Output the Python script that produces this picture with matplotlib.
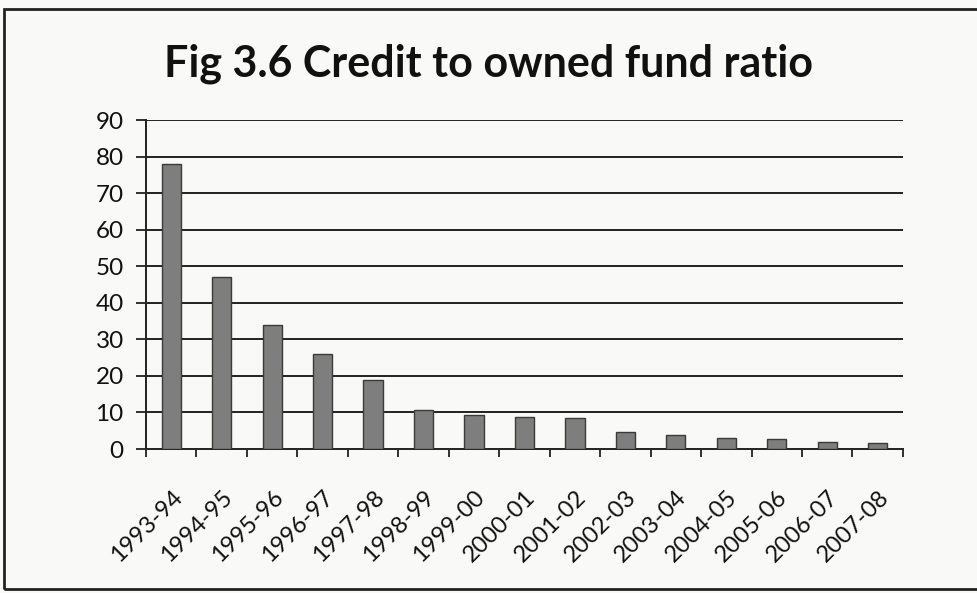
import matplotlib
matplotlib.use("Agg")
import matplotlib.pyplot as plt
from matplotlib.patches import Rectangle
import numpy as np

# Credit to owned fund ratio by year
years = ["1993-94", "1994-95", "1995-96", "1996-97", "1997-98", "1998-99",
         "1999-00", "2000-01", "2001-02", "2002-03", "2003-04", "2004-05",
         "2005-06", "2006-07", "2007-08"]
ratio = [78, 47, 34, 26, 19, 10.8, 9.4, 8.8, 8.5, 4.6, 3.8, 3.0, 2.7, 1.9, 1.6]
yticks = [0, 10, 20, 30, 40, 50, 60, 70, 80, 90]

plt.rcParams['font.family'] = ['Lato', 'DejaVu Sans']

paper = '#f9f9f7'
fig = plt.figure(figsize=(9.77, 5.93), dpi=100, facecolor=paper)
ax = fig.add_axes([0.1494, 0.2428, 0.7748, 0.5548])
ax.set_facecolor(paper)

x = np.arange(len(years))
ax.bar(x, ratio, width=0.38, color='#7e7e7e', edgecolor='#3a3a3a',
       linewidth=1.0, zorder=3)

ax.set_xlim(-0.5, len(years) - 0.5)
ax.set_ylim(0, 90)
ax.set_yticks(yticks)
ax.set_yticklabels([str(v) for v in yticks], fontsize=17.5, color='#111111')

# category labels centred on bars, tick marks between categories
ax.set_xticks(x)
ax.set_xticklabels(years, rotation=45, ha='right', va='top',
                   rotation_mode='anchor', fontsize=17, color='#111111')
ax.tick_params(axis='x', length=0, pad=27)
ax.set_xticks(np.arange(len(years) + 1) - 0.5, minor=True)
ax.tick_params(axis='x', which='minor', length=6, width=1.3, color='#222222')
ax.tick_params(axis='y', length=7, width=1.3, color='#222222', pad=9)

for v in yticks[1:]:
    ax.axhline(v, color='#222222', linewidth=1.4, zorder=1)

for side in ['top', 'right']:
    ax.spines[side].set_visible(False)
for side in ['left', 'bottom']:
    ax.spines[side].set_linewidth(1.4)
    ax.spines[side].set_color('#222222')

fig.text(0.5, 0.893, "Fig 3.6 Credit to owned fund ratio", ha='center',
         va='center', fontsize=31, fontweight='bold', color='#111111')

# frame around the chart area
fig.patches.append(Rectangle((0.004, 0.006), 1.2, 0.978, transform=fig.transFigure,
                             fill=False, edgecolor='#222222', linewidth=2.0))

fig.savefig("out.png", dpi=100, facecolor=paper)
